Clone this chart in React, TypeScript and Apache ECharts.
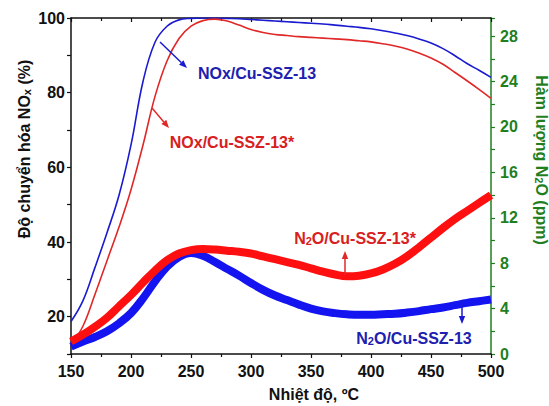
import React, { useEffect, useRef } from "react";
import * as echarts from "echarts";

const temps = [150,160,170,180,190,200,210,220,230,240,250,260,270,280,290,300,310,320,330,340,350,360,370,380,390,400,410,420,430,440,450,460,470,480,490,500];
const noxBase = [18.7,24.3,33.2,42.5,52.5,66,83,93.5,97.8,99.5,99.9,100,100,99.9,99.8,99.6,99.4,99.2,99.0,98.8,98.6,98.4,98.1,97.8,97.5,97.1,96.6,96.0,95.3,94.4,93.3,91.8,89.9,87.8,86.0,84.1];
const noxMod = [12.5,17.5,26,35,44,54,66,79,88.5,94.5,97.8,99.3,99.7,99.2,98.1,96.9,96.1,95.6,95.3,95.0,94.8,94.6,94.4,94.2,93.9,93.6,93.1,92.5,91.7,90.6,89.3,87.6,85.4,83.2,80.9,78.5];
const n2oMod = [1.1,1.7,2.4,3.2,4.2,5.2,6.3,7.35,8.25,8.85,9.15,9.25,9.2,9.1,9.0,8.85,8.6,8.35,8.1,7.85,7.55,7.25,7.0,6.85,6.9,7.1,7.45,7.95,8.6,9.4,10.25,11.1,11.9,12.6,13.3,14.0];
const n2oBase = [0.65,1.1,1.5,2.0,2.7,3.6,4.9,6.4,7.7,8.55,8.9,8.65,8.1,7.5,6.9,6.25,5.65,5.15,4.75,4.35,4.0,3.75,3.6,3.5,3.45,3.45,3.5,3.55,3.65,3.78,3.95,4.1,4.3,4.5,4.65,4.8];

const FONT = 'Arial, "Liberation Sans", sans-serif';
const GREEN = "#1f7f1f";
const BLUE_LINE = "#1a1ad0";
const RED_LINE = "#e02828";
const BLUE_THICK = "#1414f0";
const RED_THICK = "#ff1010";
const BLUE_TEXT = "#2020b0";
const RED_TEXT = "#d82020";

function arrow(x1: number, y1: number, x2: number, y2: number, color: string) {
  const dx = x2 - x1, dy = y2 - y1;
  const len = Math.sqrt(dx * dx + dy * dy);
  const ux = dx / len, uy = dy / len;
  const hl = 8, hw = 3.2;
  const bx = x2 - ux * hl, by = y2 - uy * hl;
  return [
    { type: "line", shape: { x1, y1, x2: bx, y2: by }, style: { stroke: color, lineWidth: 1.5 }, z: 100 },
    {
      type: "polygon",
      shape: { points: [[x2, y2], [bx - uy * hw, by + ux * hw], [bx + uy * hw, by - ux * hw]] },
      style: { fill: color },
      z: 100,
    },
  ];
}

const subRich = (color: string) => ({
  a: { font: `bold 16px ${FONT}`, fontSize: 16, fontWeight: "bold", fontFamily: FONT, fill: color, color, verticalAlign: "bottom" },
  s: { font: `bold 11px ${FONT}`, fontSize: 11, fontWeight: "bold", fontFamily: FONT, fill: color, color, verticalAlign: "bottom" },
});

function label(x: number, y: number, text: string, color: string, rich?: any) {
  return {
    type: "text",
    x,
    y,
    z: 100,
    style: {
      text,
      fill: color,
      font: `bold 16px ${FONT}`,
      fontFamily: FONT,
      fontSize: 16,
      fontWeight: "bold",
      align: "center",
      verticalAlign: "middle",
      rich,
    },
  };
}

export default function App() {
  const ref = useRef<HTMLDivElement>(null);
  useEffect(() => {
    if (!ref.current) return;
    const chart = echarts.init(ref.current, null, { renderer: "svg" });
    const pts = (arr: number[]) => temps.map((t, i) => [t, arr[i]]);
    const axisLabelStyle = { fontFamily: FONT, fontSize: 16, fontWeight: "bold" as const, color: "#111" };
    chart.setOption({
      animation: false,
      backgroundColor: "#fff",
      grid: { left: 71, right: 58, top: 18, bottom: 52, containLabel: false },
      xAxis: [
        {
          type: "value", min: 150, max: 500, interval: 50, position: "bottom",
          axisLine: { show: true, lineStyle: { color: "#111", width: 1.5 } },
          axisTick: { show: true, inside: false, length: 4, lineStyle: { color: "#111", width: 1.2 } },
          minorTick: { show: true, splitNumber: 2, length: 3, lineStyle: { color: "#111", width: 1.2 } },
          axisLabel: { ...axisLabelStyle, margin: 9 },
          splitLine: { show: false },
        },
        {
          type: "value", min: 150, max: 500, interval: 50, position: "top",
          axisLine: { show: true, lineStyle: { color: "#111", width: 1.5 } },
          axisTick: { show: true, inside: true, length: 4, lineStyle: { color: "#111", width: 1.2 } },
          minorTick: { show: true, splitNumber: 2, length: 3, lineStyle: { color: "#111", width: 1.2 } },
          axisLabel: { show: false },
          splitLine: { show: false },
        },
      ],
      yAxis: [
        {
          type: "value", min: 10, max: 100, interval: 10, position: "left",
          axisLine: { show: true, lineStyle: { color: "#111", width: 1.5 } },
          axisTick: { show: true, inside: false, length: 4, lineStyle: { color: "#111", width: 1.2 } },
          axisLabel: {
            ...axisLabelStyle, margin: 6,
            formatter: (v: number) => (Math.abs(v % 20) < 1e-6 ? String(v) : ""),
          },
          splitLine: { show: false },
        },
        {
          type: "value", min: 0, max: 29.6, interval: 2, position: "right",
          axisLine: { show: true, lineStyle: { color: GREEN, width: 1.5 } },
          axisTick: { show: true, inside: false, length: 4, lineStyle: { color: GREEN, width: 1.2 } },
          axisLabel: {
            ...axisLabelStyle, color: GREEN, margin: 9,
            formatter: (v: number) => (Math.abs(v % 4) < 1e-6 ? String(v) : ""),
          },
          splitLine: { show: false },
        },
      ],
      series: [
        {
          name: "NOx/Cu-SSZ-13", type: "line", xAxisIndex: 0, yAxisIndex: 0, data: pts(noxBase),
          showSymbol: false, smooth: 0.4, lineStyle: { color: BLUE_LINE, width: 1.6 }, z: 2,
        },
        {
          name: "NOx/Cu-SSZ-13*", type: "line", xAxisIndex: 0, yAxisIndex: 0, data: pts(noxMod),
          showSymbol: false, smooth: 0.4, lineStyle: { color: RED_LINE, width: 1.6 }, z: 2,
        },
        {
          name: "N2O/Cu-SSZ-13", type: "line", xAxisIndex: 0, yAxisIndex: 1, data: pts(n2oBase),
          showSymbol: false, smooth: 0.4, lineStyle: { color: BLUE_THICK, width: 8 }, z: 3,
        },
        {
          name: "N2O/Cu-SSZ-13*", type: "line", xAxisIndex: 0, yAxisIndex: 1, data: pts(n2oMod),
          showSymbol: false, smooth: 0.4, lineStyle: { color: RED_THICK, width: 8 }, z: 4,
        },
      ],
      graphic: [
        ...arrow(160, 42, 187, 68, BLUE_LINE),
        label(257, 73, "NOx/Cu-SSZ-13", BLUE_TEXT),
        ...arrow(152, 108, 169, 128, RED_LINE),
        label(232, 142, "NOx/Cu-SSZ-13*", RED_TEXT),
        ...arrow(345, 275, 345, 251, RED_LINE),
        label(355, 238, "{a|N}{s|2}{a|O/Cu-SSZ-13*}", RED_TEXT, subRich(RED_TEXT)),
        ...arrow(462, 300, 462, 324, BLUE_LINE),
        label(414, 338, "{a|N}{s|2}{a|O/Cu-SSZ-13}", BLUE_TEXT, subRich(BLUE_TEXT)),
        {
          type: "text", x: 24, y: 149, rotation: Math.PI / 2, z: 100,
          style: {
            text: "{a|Độ chuyển hóa NO}{s|x}{a| (%)}",
            fill: "#111", align: "center", verticalAlign: "middle",
            font: `bold 16px ${FONT}`, fontWeight: "bold",
            rich: subRich("#111"),
          },
        },
        {
          type: "text", x: 541, y: 160, rotation: -Math.PI / 2, z: 100,
          style: {
            text: "{a|Hàm lượng N}{s|2}{a|O (ppm)}",
            fill: GREEN, align: "center", verticalAlign: "middle",
            font: `bold 16px ${FONT}`, fontWeight: "bold",
            rich: subRich(GREEN),
          },
        },
        {
          type: "text", x: 314, y: 394, z: 100,
          style: {
            text: "Nhiệt độ, ºC", fill: "#111", align: "center", verticalAlign: "middle",
            font: `bold 16px ${FONT}`, fontFamily: FONT, fontSize: 16, fontWeight: "bold",
          },
        },
      ],
    });
    return () => chart.dispose();
  }, []);
  return <div ref={ref} style={{ width: 549, height: 406, position: "absolute", left: 0, top: 0 }} />;
}
